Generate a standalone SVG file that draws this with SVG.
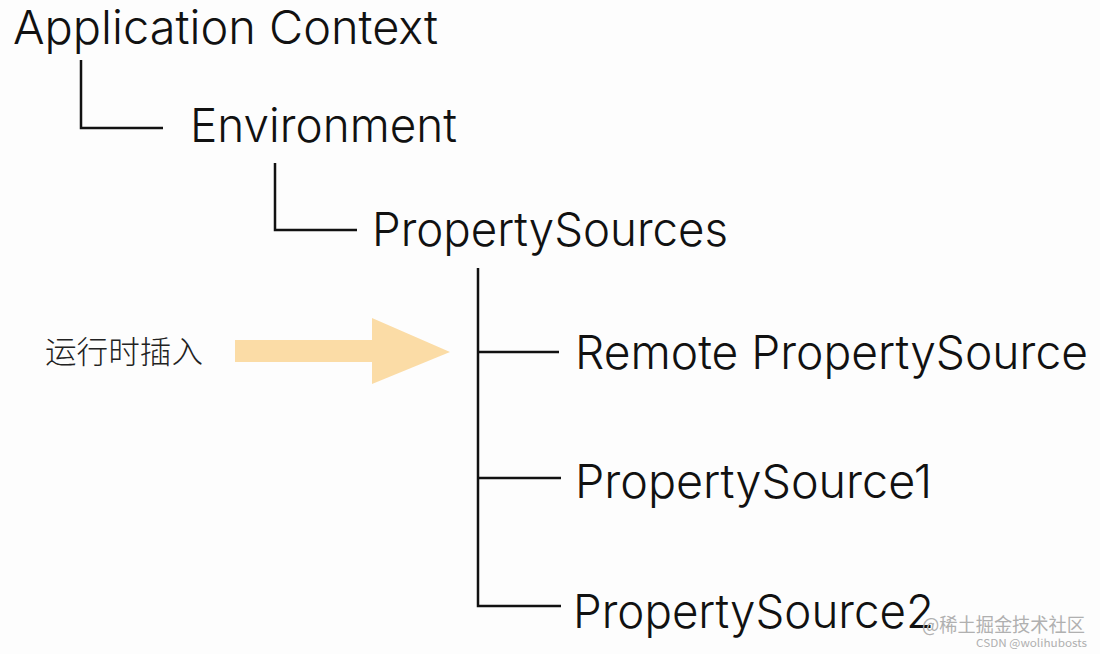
<svg xmlns="http://www.w3.org/2000/svg" width="1100" height="654" viewBox="0 0 1100 654">
<style>
.lbl{font-family:Inter,"Liberation Sans",Arial,sans-serif;font-weight:300;font-size:47px;fill:#111;}
.cn{font-family:"Noto Sans CJK SC","Noto Sans",sans-serif;font-size:31px;font-weight:300;fill:#222;}
.wm{font-family:"Noto Sans CJK SC","Liberation Sans",sans-serif;fill:#b0b0b0;}
.ln{stroke:#111;stroke-width:2.5;fill:none;}
</style>
<rect width="1100" height="654" fill="#fdfdfd"/>
<g id="connectors">
<path class="ln" d="M81,60 V128 H163"/>
<path class="ln" d="M275,163 V230 H357"/>
<path class="ln" d="M478,268 V606 H561"/>
<path class="ln" d="M478,352 H559"/>
<path class="ln" d="M478,478 H561"/>
</g>
<g id="arrow">
<polygon points="235,340 372,340 372,318 450,352 372,384 372,362 235,362" fill="#fbdca6"/>
</g>
<g id="node-appcontext"><text class="lbl" x="13" y="44" textLength="425" lengthAdjust="spacingAndGlyphs">Application Context</text></g>
<g id="node-environment"><text class="lbl" x="190" y="142" textLength="267" lengthAdjust="spacingAndGlyphs">Environment</text></g>
<g id="node-propertysources"><text class="lbl" x="372" y="246" textLength="356" lengthAdjust="spacingAndGlyphs">PropertySources</text></g>
<g id="node-remote"><text class="lbl" x="575" y="369" textLength="513" lengthAdjust="spacingAndGlyphs">Remote PropertySource</text></g>
<g id="node-ps1"><text class="lbl" x="575" y="498" textLength="357" lengthAdjust="spacingAndGlyphs">PropertySource1</text></g>
<g id="node-ps2"><text class="lbl" x="573" y="628" textLength="361" lengthAdjust="spacingAndGlyphs">PropertySource2</text></g>
<g id="label-insert"><text class="cn" x="45" y="363" textLength="158" lengthAdjust="spacingAndGlyphs">运行时插入</text></g>
<g id="watermark">
<text class="wm" x="922" y="632" font-size="19" textLength="163" lengthAdjust="spacingAndGlyphs">@稀土掘金技术社区</text>
<text class="wm" x="976" y="647" font-size="11" textLength="111" lengthAdjust="spacingAndGlyphs">CSDN @wolihubosts</text>
</g>
</svg>
